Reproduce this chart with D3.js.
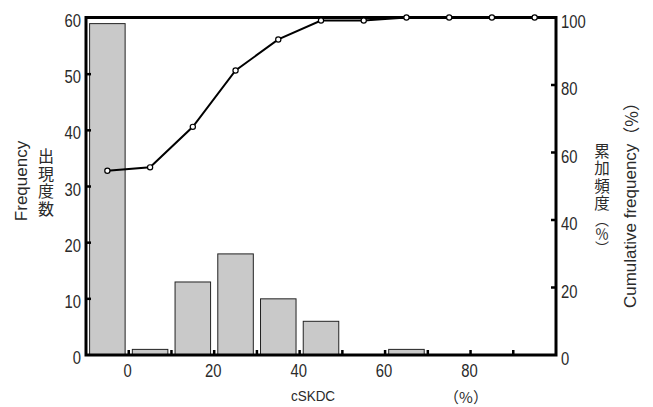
<!DOCTYPE html>
<html>
<head>
<meta charset="utf-8">
<script src="https://cdn.jsdelivr.net/npm/d3@7"></script>
<style>
  html, body { margin: 0; padding: 0; background: #fff; }
  svg { display: block; }
  text { font-family: "Liberation Sans", Arial, sans-serif; fill: #2a2a2a; }
  .cjk { font-family: "Noto Sans CJK JP", sans-serif; }
  .vert { writing-mode: vertical-rl; text-orientation: mixed; }
</style>
</head>
<body>
<svg id="chart" width="653" height="407"></svg>
<script>
// ---- data ----
const binStarts = [-10, 0, 10, 20, 30, 40, 50, 60, 70, 80, 90];
const frequency = [59, 1, 13, 18, 10, 6, 0, 1, 0, 0, 0];
const cumulative = [54.6, 55.6, 67.6, 84.3, 93.5, 99.1, 99.1, 100, 100, 100, 100];
const xTickValues = [0, 10, 20, 30, 40, 50, 60, 70, 80, 90];
const xTickLabels = [0, 20, 40, 60, 80];
const leftTicks = [0, 10, 20, 30, 40, 50, 60];
const rightTicks = [0, 20, 40, 60, 80, 100];
const binWidth = 10;

// ---- layout ----
const svg = d3.select("#chart");
const x = d3.scaleLinear().domain([-10, 100]).range([86, 556]);
const yL = d3.scaleLinear().domain([0, 60]).range([355, 18]);
const yR = d3.scaleLinear().domain([0, 100]).range([355, 17.5]);

const bins = binStarts.map((b, i) => ({ b, f: frequency[i], c: cumulative[i] }));

// bars
svg.append("g").selectAll("rect")
  .data(bins.filter(d => d.f > 0))
  .join("rect")
  .attr("x", d => x(d.b) + 3.6)
  .attr("width", d => x(d.b + binWidth) - x(d.b) - 7.2)
  .attr("y", d => yL(d.f))
  .attr("height", d => yL(0) - yL(d.f))
  .attr("fill", "#c9c9c9")
  .attr("stroke", "#222")
  .attr("stroke-width", 1);

// frame
svg.append("rect")
  .attr("x", x(-10)).attr("y", yR(100))
  .attr("width", x(100) - x(-10)).attr("height", yR(0) - yR(100))
  .attr("fill", "none").attr("stroke", "#000").attr("stroke-width", 3);

// inward tick marks
const tk = svg.append("g").attr("stroke", "#000").attr("stroke-width", 2.5);
tk.selectAll(".bt").data(xTickValues).join("line")
  .attr("x1", d => x(d)).attr("x2", d => x(d))
  .attr("y1", yL(0)).attr("y2", yL(0) - 5);
tk.selectAll(".lt").data(leftTicks.filter(d => d > 0 && d < 60)).join("line")
  .attr("x1", x(-10)).attr("x2", x(-10) + 5)
  .attr("y1", d => yL(d)).attr("y2", d => yL(d));
tk.selectAll(".rt").data(rightTicks.filter(d => d > 0 && d < 100)).join("line")
  .attr("x1", x(100)).attr("x2", x(100) - 5)
  .attr("y1", d => yR(d)).attr("y2", d => yR(d));

// tick labels (narrow digits)
const tickFont = 19, sx = 0.78;
function label(txt, px, py, anchor) {
  svg.append("text")
    .attr("transform", `translate(${px},${py}) scale(${sx},1)`)
    .attr("text-anchor", anchor)
    .attr("dominant-baseline", "central")
    .attr("font-size", tickFont)
    .text(txt);
}
leftTicks.forEach(d => label(d, 81, yL(d) + 3, "end"));
rightTicks.forEach(d => label(d, 561, yR(d) + 4, "start"));
xTickLabels.forEach(d => label(d, x(d) - 1, 371, "middle"));

// cumulative line
const line = d3.line().x(d => x(d.b + binWidth / 2)).y(d => yR(d.c));
svg.append("path").datum(bins)
  .attr("d", line)
  .attr("fill", "none").attr("stroke", "#000").attr("stroke-width", 2);
svg.append("g").selectAll("circle").data(bins).join("circle")
  .attr("cx", d => x(d.b + binWidth / 2)).attr("cy", d => yR(d.c))
  .attr("r", 2.6)
  .attr("fill", "#fff").attr("stroke", "#000").attr("stroke-width", 1.2);

// axis titles
svg.append("text")
  .attr("transform", "translate(313,396) scale(0.9,1)")
  .attr("text-anchor", "middle").attr("dominant-baseline", "central")
  .attr("font-size", 15).text("cSKDC");
svg.append("text")
  .attr("x", 466).attr("y", 396)
  .attr("text-anchor", "middle").attr("dominant-baseline", "central")
  .attr("class", "cjk").attr("font-size", 15).text("（%）");

svg.append("text")
  .attr("transform", "translate(21,181) rotate(-90)")
  .attr("text-anchor", "middle").attr("dominant-baseline", "central")
  .attr("font-size", 17).text("Frequency");

// vertical Japanese titles
svg.append("text")
  .attr("class", "cjk vert")
  .attr("x", 46).attr("y", 148)
  .attr("font-size", 16).attr("letter-spacing", 1.5)
  .text("出現度数");

const rv = svg.append("text")
  .attr("class", "cjk vert")
  .attr("x", 602).attr("y", 143)
  .attr("font-size", 15.5);
rv.append("tspan").attr("letter-spacing", 2).text("累加頻度");
rv.append("tspan").attr("font-size", 14).text("（％）");

svg.append("text")
  .attr("transform", "translate(630,201) rotate(-90)")
  .attr("text-anchor", "middle").attr("dominant-baseline", "central")
  .attr("font-size", 17)
  .html('Cumulative frequency<tspan class="cjk">（%）</tspan>');
</script>
</body>
</html>
